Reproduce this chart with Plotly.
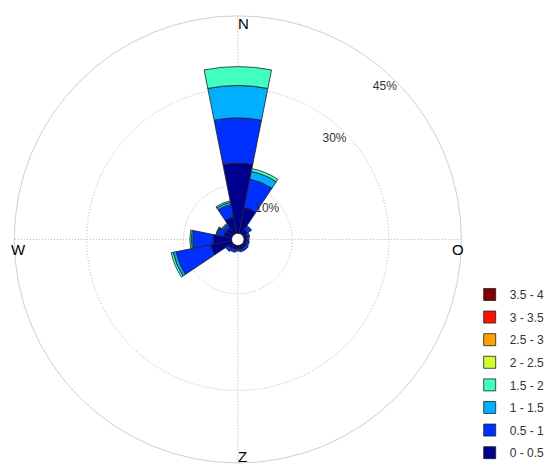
import plotly.graph_objects as go

# ---- data (percent of time per direction sector, per speed class) ----
directions = [0, 22.5, 45, 67.5, 90, 112.5, 135, 157.5, 180, 202.5, 225, 247.5, 270, 292.5, 315, 337.5]
speed_bins = ["0 - 0.5", "0.5 - 1", "1 - 1.5", "1.5 - 2", "2 - 2.5", "2.5 - 3", "3 - 3.5", "3.5 - 4"]
bin_colors = ["#00008F", "#0030FF", "#00AFFF", "#40FFBF", "#CFFF30", "#FF9F00", "#FF1000", "#800000"]

freq_0_05 = [14.6, 5.5, 1.2, 0.8, 0.7, 0.7, 0.8, 0.9, 0.8, 0.9, 1.0, 4.5, 3.9, 1.8, 1.6, 3.5]
freq_05_1 = [9.3, 6.0, 1.0, 0.5, 0.4, 0.5, 0.6, 0.5, 0.4, 0.6, 0.8, 7.3, 4.2, 1.3, 0.8, 2.6]
freq_1_15 = [6.7, 1.6, 0, 0, 0, 0, 0, 0, 0, 0, 0, 0.6, 0.3, 0.2, 0.2, 0.5]
freq_15_2 = [3.9, 0.6, 0, 0, 0, 0, 0, 0, 0, 0, 0, 0.4, 0.3, 0.1, 0.2, 0.3]
freq_2_25 = [0] * 16
freq_25_3 = [0] * 16
freq_3_35 = [0] * 16
freq_35_4 = [0] * 16
all_freqs = [freq_0_05, freq_05_1, freq_1_15, freq_15_2, freq_2_25, freq_25_3, freq_3_35, freq_35_4]

ring_ticks = [10, 30, 45]
ring_labels = ["10%", "30%", "45%"]
compass_labels = ["N", "O", "Z", "W"]

# ---- geometry of the figure ----
W, H = 550, 468
cx, cy, R = 240, 242, 226
hole_px = 6
rmax = 45
px_per_unit = (R - hole_px) / rmax

fig = go.Figure()

# radial tick labels (drawn under the bars)
fig.add_trace(go.Scatterpolar(
    r=[t - 12 / px_per_unit for t in ring_ticks],
    theta=[44] * len(ring_ticks),
    mode="text",
    text=ring_labels,
    textfont=dict(family="Liberation Sans, Arial, sans-serif", size=12, color="#333333"),
    showlegend=False,
    hoverinfo="skip",
))

n_bins = len(speed_bins)
for i, (name, col, vals) in enumerate(zip(speed_bins, bin_colors, all_freqs)):
    fig.add_trace(go.Barpolar(
        r=[v if v > 0 else None for v in vals],
        theta=directions,
        width=[22.5] * len(directions),
        name=name,
        legendgroup=name,
        legendrank=n_bins - i,
        marker=dict(color=col, line=dict(color="#222222", width=0.8)),
        opacity=1,
    ))

grid_col = "#b4b4b4"
axis_font = dict(family="Liberation Sans, Arial, sans-serif", size=15, color="#000000")
fig.update_layout(
    width=W, height=H,
    margin=dict(l=0, r=0, t=0, b=0),
    paper_bgcolor="white",
    plot_bgcolor="white",
    font=dict(family="Liberation Sans, Arial, sans-serif", size=12, color="#333333"),
    polar=dict(
        domain=dict(x=[(cx - R) / W, (cx + R) / W], y=[1 - (cy + R) / H, 1 - (cy - R) / H]),
        hole=hole_px / R,
        bgcolor="white",
        barmode="stack",
        bargap=0,
        radialaxis=dict(
            range=[0, rmax], tickvals=ring_ticks, showticklabels=False, ticks="",
            showline=False, gridcolor=grid_col, griddash="1px,2px", gridwidth=1,
            layer="below traces",
        ),
        angularaxis=dict(
            rotation=90, direction="clockwise", tickvals=[0, 90, 180, 270],
            showticklabels=False, ticks="", showline=True, linecolor="#cfcfcf", linewidth=1,
            gridcolor=grid_col, griddash="1px,2px", gridwidth=1, layer="below traces",
        ),
    ),
    legend=dict(
        x=474 / W, xanchor="left", y=1 - 283 / H, yanchor="top",
        traceorder="grouped", tracegroupgap=3.6,
        bgcolor="rgba(0,0,0,0)", font=dict(size=12, color="#333333"),
        itemclick=False,
    ),
    showlegend=True,
)

# compass labels
label_pos = [(246, 24), (462, 252), (245, 461), (19, 252)]
for txt, (lx, ly) in zip(compass_labels, label_pos):
    fig.add_annotation(x=lx / W, y=1 - ly / H, xref="paper", yref="paper",
                       text=txt, showarrow=False, font=axis_font,
                       xanchor="center", yanchor="middle")

fig.write_html("out.html",
               config={"displayModeBar": False},
               post_script="document.body.style.margin='0';document.body.style.overflow='hidden';")
